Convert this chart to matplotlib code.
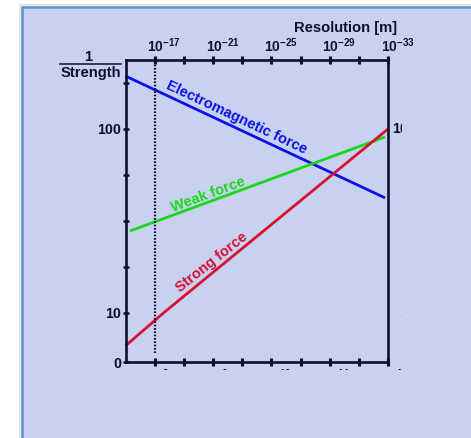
import numpy as np
import matplotlib
matplotlib.use("Agg")
import matplotlib.pyplot as plt
from matplotlib.patches import Rectangle
from matplotlib.lines import Line2D
from matplotlib.transforms import Bbox

# ---- data -------------------------------------------------------------
# x: resolution exponent n (resolution = 10^-n metres)
em_n = [15.0, 32.8]
em_inv = [125.9, 66.3]
weak_n = [15.3, 32.8]
weak_inv = [50.1, 96.1]
strong_n = [15.0, 17.6, 33.0]
strong_inv = [3.3, 10.0, 100.0]

x_ticks = [17, 19, 21, 23, 25, 27, 29, 31, 33]
top_label_n = [17, 21, 25, 29, 33]
top_label_exp = ["-17", "-21", "-25", "-29", "-33"]
bottom_label_exp = ["2", "6", "10", "14", "18"]
y_ticks = [0, 10, 32.5, 55, 77.5, 100, 122.5]
y_labels = {0: "0", 10: "10", 100: "100"}
right_labels = {10: "10", 100: "100"}
hadron_scale_n = 17

# ---- style ------------------------------------------------------------
W, H = 471, 438
DPI = 100
INK = "#0b1030"
PANEL = "#c9d1f1"
BLUE, GREEN, RED = "#0a12e8", "#16d916", "#d8102e"
plt.rcParams["font.family"] = ["Liberation Sans", "DejaVu Sans"]
plt.rcParams["font.weight"] = "bold"
plt.rcParams["mathtext.fontset"] = "custom"
plt.rcParams["mathtext.rm"] = "Liberation Sans:bold"
plt.rcParams["mathtext.bf"] = "Liberation Sans:bold"
plt.rcParams["mathtext.default"] = "bf"

fig = plt.figure(figsize=(W / DPI, H / DPI), dpi=DPI, facecolor="white")


def fx(px):
    return px / W


def fy(py):
    return 1 - py / H


# background panel with soft shadow
fig.patches.append(Rectangle((fx(19.5), -0.1), 1.2, fy(4.5) + 0.1, transform=fig.transFigure,
                             facecolor="none", edgecolor="#e6e6e6", lw=1.5, zorder=-2))
fig.patches.append(Rectangle((fx(22), -0.1), 1.2, fy(6.5) + 0.1, transform=fig.transFigure,
                             facecolor=PANEL, edgecolor="#5f91cf", lw=1.8, zorder=-1))

left, right, top, bottom = 125.5, 388.0, 60.0, 362.0
ax = fig.add_axes([fx(left), fy(bottom), (right - left) / W, (bottom - top) / H])
ax.set_facecolor("none")


# piecewise-linear vertical scale (compressed 0..10 segment, linear above)
def fwd(v):
    v = np.asarray(v, dtype=float)
    return np.where(v <= 10, v * 4.9, 49 + (v - 10) * 184 / 90)


def inv(p):
    p = np.asarray(p, dtype=float)
    return np.where(p <= 49, p / 4.9, 10 + (p - 49) * 90 / 184)


ax.set_yscale("function", functions=(fwd, inv))
ax.set_xlim(15, 33)
ax.set_ylim(0, 133.75)

for s in ax.spines.values():
    s.set_color(INK)
    s.set_linewidth(1.9)

ax.set_xticks(x_ticks)
ax.set_xticklabels([])
ax.set_yticks(y_ticks)
ax.set_yticklabels([y_labels.get(v, "") for v in y_ticks])
ax.yaxis.set_minor_locator(matplotlib.ticker.NullLocator())
ax.tick_params(axis="x", which="both", top=True, bottom=True, direction="inout",
               length=5.5, width=2.2, color=INK)
ax.tick_params(axis="y", which="both", left=True, right=False, direction="inout",
               length=5, width=1.8, color=INK, labelsize=10.3, labelcolor=INK, pad=0.5)
for lab in ax.get_yticklabels():
    lab.set_fontweight("bold")

# force lines
ax.plot(em_n, em_inv, color=BLUE, lw=2.0, solid_capstyle="butt", clip_on=False)
ax.plot(weak_n, weak_inv, color=GREEN, lw=2.0, solid_capstyle="butt", clip_on=False)
ax.plot(strong_n, strong_inv, color=RED, lw=2.0, solid_capstyle="butt", clip_on=False)

# hadron scale marker
ax.plot([hadron_scale_n, hadron_scale_n], [1.84, 133.75], color=INK, lw=1.6,
        linestyle=(0, (0.75, 0.75)))

# line captions
ax.text(22.6, 105.6, "Electromagnetic force", color=BLUE, fontsize=10.5, fontweight="bold",
        rotation=-25.3, ha="center", va="center", rotation_mode="anchor")
ax.text(20.65, 67.8, "Weak force", color=GREEN, fontsize=10.5, fontweight="bold",
        rotation=20.3, ha="center", va="center", rotation_mode="anchor")
ax.text(20.9, 35.0, "Strong force", color=RED, fontsize=10.5, fontweight="bold",
        rotation=38.5, ha="center", va="center", rotation_mode="anchor")

# top tick labels: powers of ten
for n, e in zip(top_label_n, top_label_exp):
    ax.annotate(r"$10^{%s}$" % e, xy=(n, 1), xycoords=("data", "axes fraction"),
                xytext=(-5.2, 5.8), textcoords="offset points", ha="left", va="baseline",
                fontsize=10, color=INK, annotation_clip=False)

# cropped labels along the bottom and right edges
crop = Bbox.from_extents(0, H - 370, 402, H)
for n, e in zip(top_label_n, bottom_label_exp):
    t = ax.annotate(r"$10^{%s}$" % e, xy=(n, 0), xycoords=("data", "axes fraction"),
                    xytext=(-5.2, -3.9), textcoords="offset points", ha="left", va="top",
                    fontsize=10, color=INK, annotation_clip=False)
    t.set_clip_on(True)
    t.set_clip_box(crop)
for v, lab in right_labels.items():
    t = ax.annotate(lab, xy=(1, v), xycoords=("axes fraction", "data"), xytext=(20.2, 0),
                    textcoords="offset points", ha="right", va="center", fontsize=10.3,
                    fontweight="bold", color=INK, annotation_clip=False)
    t.set_clip_on(True)
    t.set_clip_box(crop)

# axis titles
fig.text(fx(346), fy(28), "Resolution [m]", ha="center", va="center", fontsize=10.6,
         fontweight="bold", color=INK)
fig.text(fx(88), fy(57), "1", ha="center", va="center", fontsize=10.6,
         fontweight="bold", color=INK)
fig.lines.append(Line2D([fx(60), fx(121)], [fy(64), fy(64)], transform=fig.transFigure,
                        color=INK, lw=1.1))
fig.text(fx(90.5), fy(72.5), "Strength", ha="center", va="center", fontsize=10.6,
         fontweight="bold", color=INK)

fig.savefig("out.png", dpi=DPI, facecolor="white")
